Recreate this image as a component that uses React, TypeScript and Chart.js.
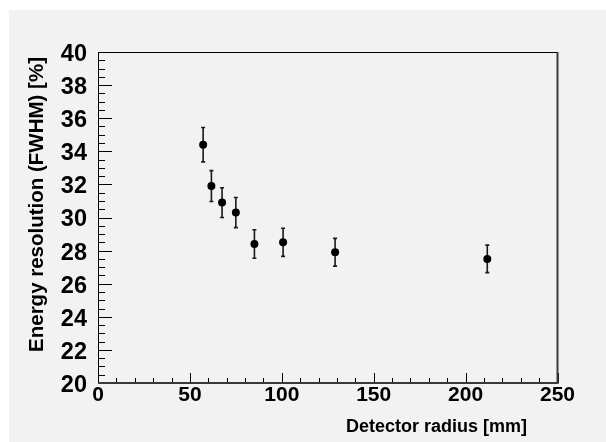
import React, { useEffect, useRef } from "react";
import { Chart, registerables } from "chart.js";

Chart.register(...registerables);

// ---- data ----
const detectorRadius = [57.2, 61.7, 67.5, 75.0, 85.1, 100.7, 129.0, 211.8];
const energyResolution = [34.4, 31.9, 30.9, 30.3, 28.4, 28.5, 27.9, 27.5];
const resolutionError = [1.04, 0.93, 0.9, 0.91, 0.86, 0.85, 0.84, 0.83];
const xTitle = "Detector radius [mm]";
const yTitle = "Energy resolution (FWHM) [%]";
const xMin = 0;
const xMax = 250;
const xMajorStep = 50;
const xMinorStep = 10;
const yMin = 20;
const yMax = 40;
const yMajorStep = 2;
const yMinorStep = 0.5;

const FONT = '"Liberation Sans", Arial, Helvetica, sans-serif';

const rootStylePlugin = {
  id: "rootStyle",
  beforeDatasetsDraw(chart: any) {
    const { ctx, chartArea: a, scales } = chart;
    const x = scales.x;
    const y = scales.y;
    ctx.save();

    // inward ticks
    ctx.strokeStyle = "#000";
    ctx.lineWidth = 1;
    ctx.beginPath();
    const nx = Math.round((xMax - xMin) / xMinorStep);
    const perMajorX = Math.round(xMajorStep / xMinorStep);
    for (let i = 0; i <= nx; i++) {
      const v = xMin + i * xMinorStep;
      const px = Math.round(x.getPixelForValue(v)) + 0.5;
      const len = i % perMajorX === 0 ? 10 : 5;
      ctx.moveTo(px, a.bottom);
      ctx.lineTo(px, a.bottom - len);
    }
    const ny = Math.round((yMax - yMin) / yMinorStep);
    const perMajorY = Math.round(yMajorStep / yMinorStep);
    for (let i = 0; i <= ny; i++) {
      const v = yMin + i * yMinorStep;
      const py = Math.round(y.getPixelForValue(v)) + 0.5;
      const len = i % perMajorY === 0 ? 14 : 7;
      ctx.moveTo(a.left, py);
      ctx.lineTo(a.left + len, py);
    }
    ctx.stroke();

    // frame: thin top/left, heavier bottom/right
    ctx.beginPath();
    ctx.strokeStyle = "#000";
    ctx.lineWidth = 1;
    ctx.moveTo(a.left + 0.5, a.bottom);
    ctx.lineTo(a.left + 0.5, a.top + 0.5);
    ctx.lineTo(a.right, a.top + 0.5);
    ctx.stroke();
    ctx.beginPath();
    ctx.strokeStyle = "#3a3a3a";
    ctx.lineWidth = 2;
    ctx.moveTo(a.left, a.bottom);
    ctx.lineTo(a.right, a.bottom);
    ctx.moveTo(a.right, a.bottom + 1);
    ctx.lineTo(a.right, a.top);
    ctx.stroke();

    // error bars
    ctx.strokeStyle = "#1a1a1a";
    ctx.lineWidth = 1.6;
    ctx.beginPath();
    detectorRadius.forEach((r, i) => {
      const px = x.getPixelForValue(r);
      const top = y.getPixelForValue(energyResolution[i] + resolutionError[i]);
      const bot = y.getPixelForValue(energyResolution[i] - resolutionError[i]);
      ctx.moveTo(px, top);
      ctx.lineTo(px, bot);
      ctx.moveTo(px - 2, top);
      ctx.lineTo(px + 2, top);
      ctx.moveTo(px - 2, bot);
      ctx.lineTo(px + 2, bot);
    });
    ctx.stroke();

    // axis titles
    ctx.fillStyle = "#000";
    ctx.font = `bold 18px ${FONT}`;
    ctx.textAlign = "right";
    ctx.textBaseline = "alphabetic";
    ctx.fillText(xTitle, a.right - 30.5, 421.5);

    ctx.translate(33.7, 47);
    ctx.rotate(-Math.PI / 2);
    ctx.font = `bold 20.5px ${FONT}`;
    ctx.textAlign = "right";
    ctx.fillText(yTitle, 0, 0);

    ctx.restore();
  },
};

export default function App() {
  const canvasRef = useRef<HTMLCanvasElement | null>(null);

  useEffect(() => {
    if (!canvasRef.current) return;
    const chart = new Chart(canvasRef.current, {
      type: "scatter",
      data: {
        datasets: [
          {
            label: "Energy resolution",
            data: detectorRadius.map((r, i) => ({ x: r, y: energyResolution[i] })),
            pointRadius: 4,
            pointHoverRadius: 4,
            pointBackgroundColor: "#000",
            pointBorderWidth: 0,
            showLine: false,
          },
        ],
      },
      options: {
        animation: false,
        responsive: false,
        devicePixelRatio: 1,
        layout: { padding: { top: 42, right: 48.5, left: 0, bottom: 0 } },
        plugins: {
          legend: { display: false },
          tooltip: { enabled: false },
          title: { display: false },
        },
        scales: {
          x: {
            type: "linear",
            min: xMin,
            max: xMax,
            grid: { display: false },
            border: { display: false },
            afterFit: (s: any) => {
              s.height = 59;
            },
            ticks: {
              stepSize: xMajorStep,
              autoSkip: false,
              maxRotation: 0,
              padding: -8,
              color: "#000",
              font: { family: FONT, weight: "bold", size: 21 },
            },
          },
          y: {
            type: "linear",
            min: yMin,
            max: yMax,
            grid: { display: false },
            border: { display: false },
            afterFit: (s: any) => {
              s.width = 89;
            },
            ticks: {
              stepSize: yMajorStep,
              autoSkip: false,
              padding: 3,
              labelOffset: 2.5,
              color: "#000",
              font: { family: FONT, weight: "bold", size: 23.5 },
            },
          },
        },
      },
      plugins: [rootStylePlugin],
    });
    return () => chart.destroy();
  }, []);

  return (
    <div
      style={{
        position: "fixed",
        left: 9,
        top: 10,
        width: 597,
        height: 432,
        background: "#f2f2f2",
      }}
    >
      <canvas ref={canvasRef} width={597} height={432} style={{ display: "block" }} />
    </div>
  );
}
